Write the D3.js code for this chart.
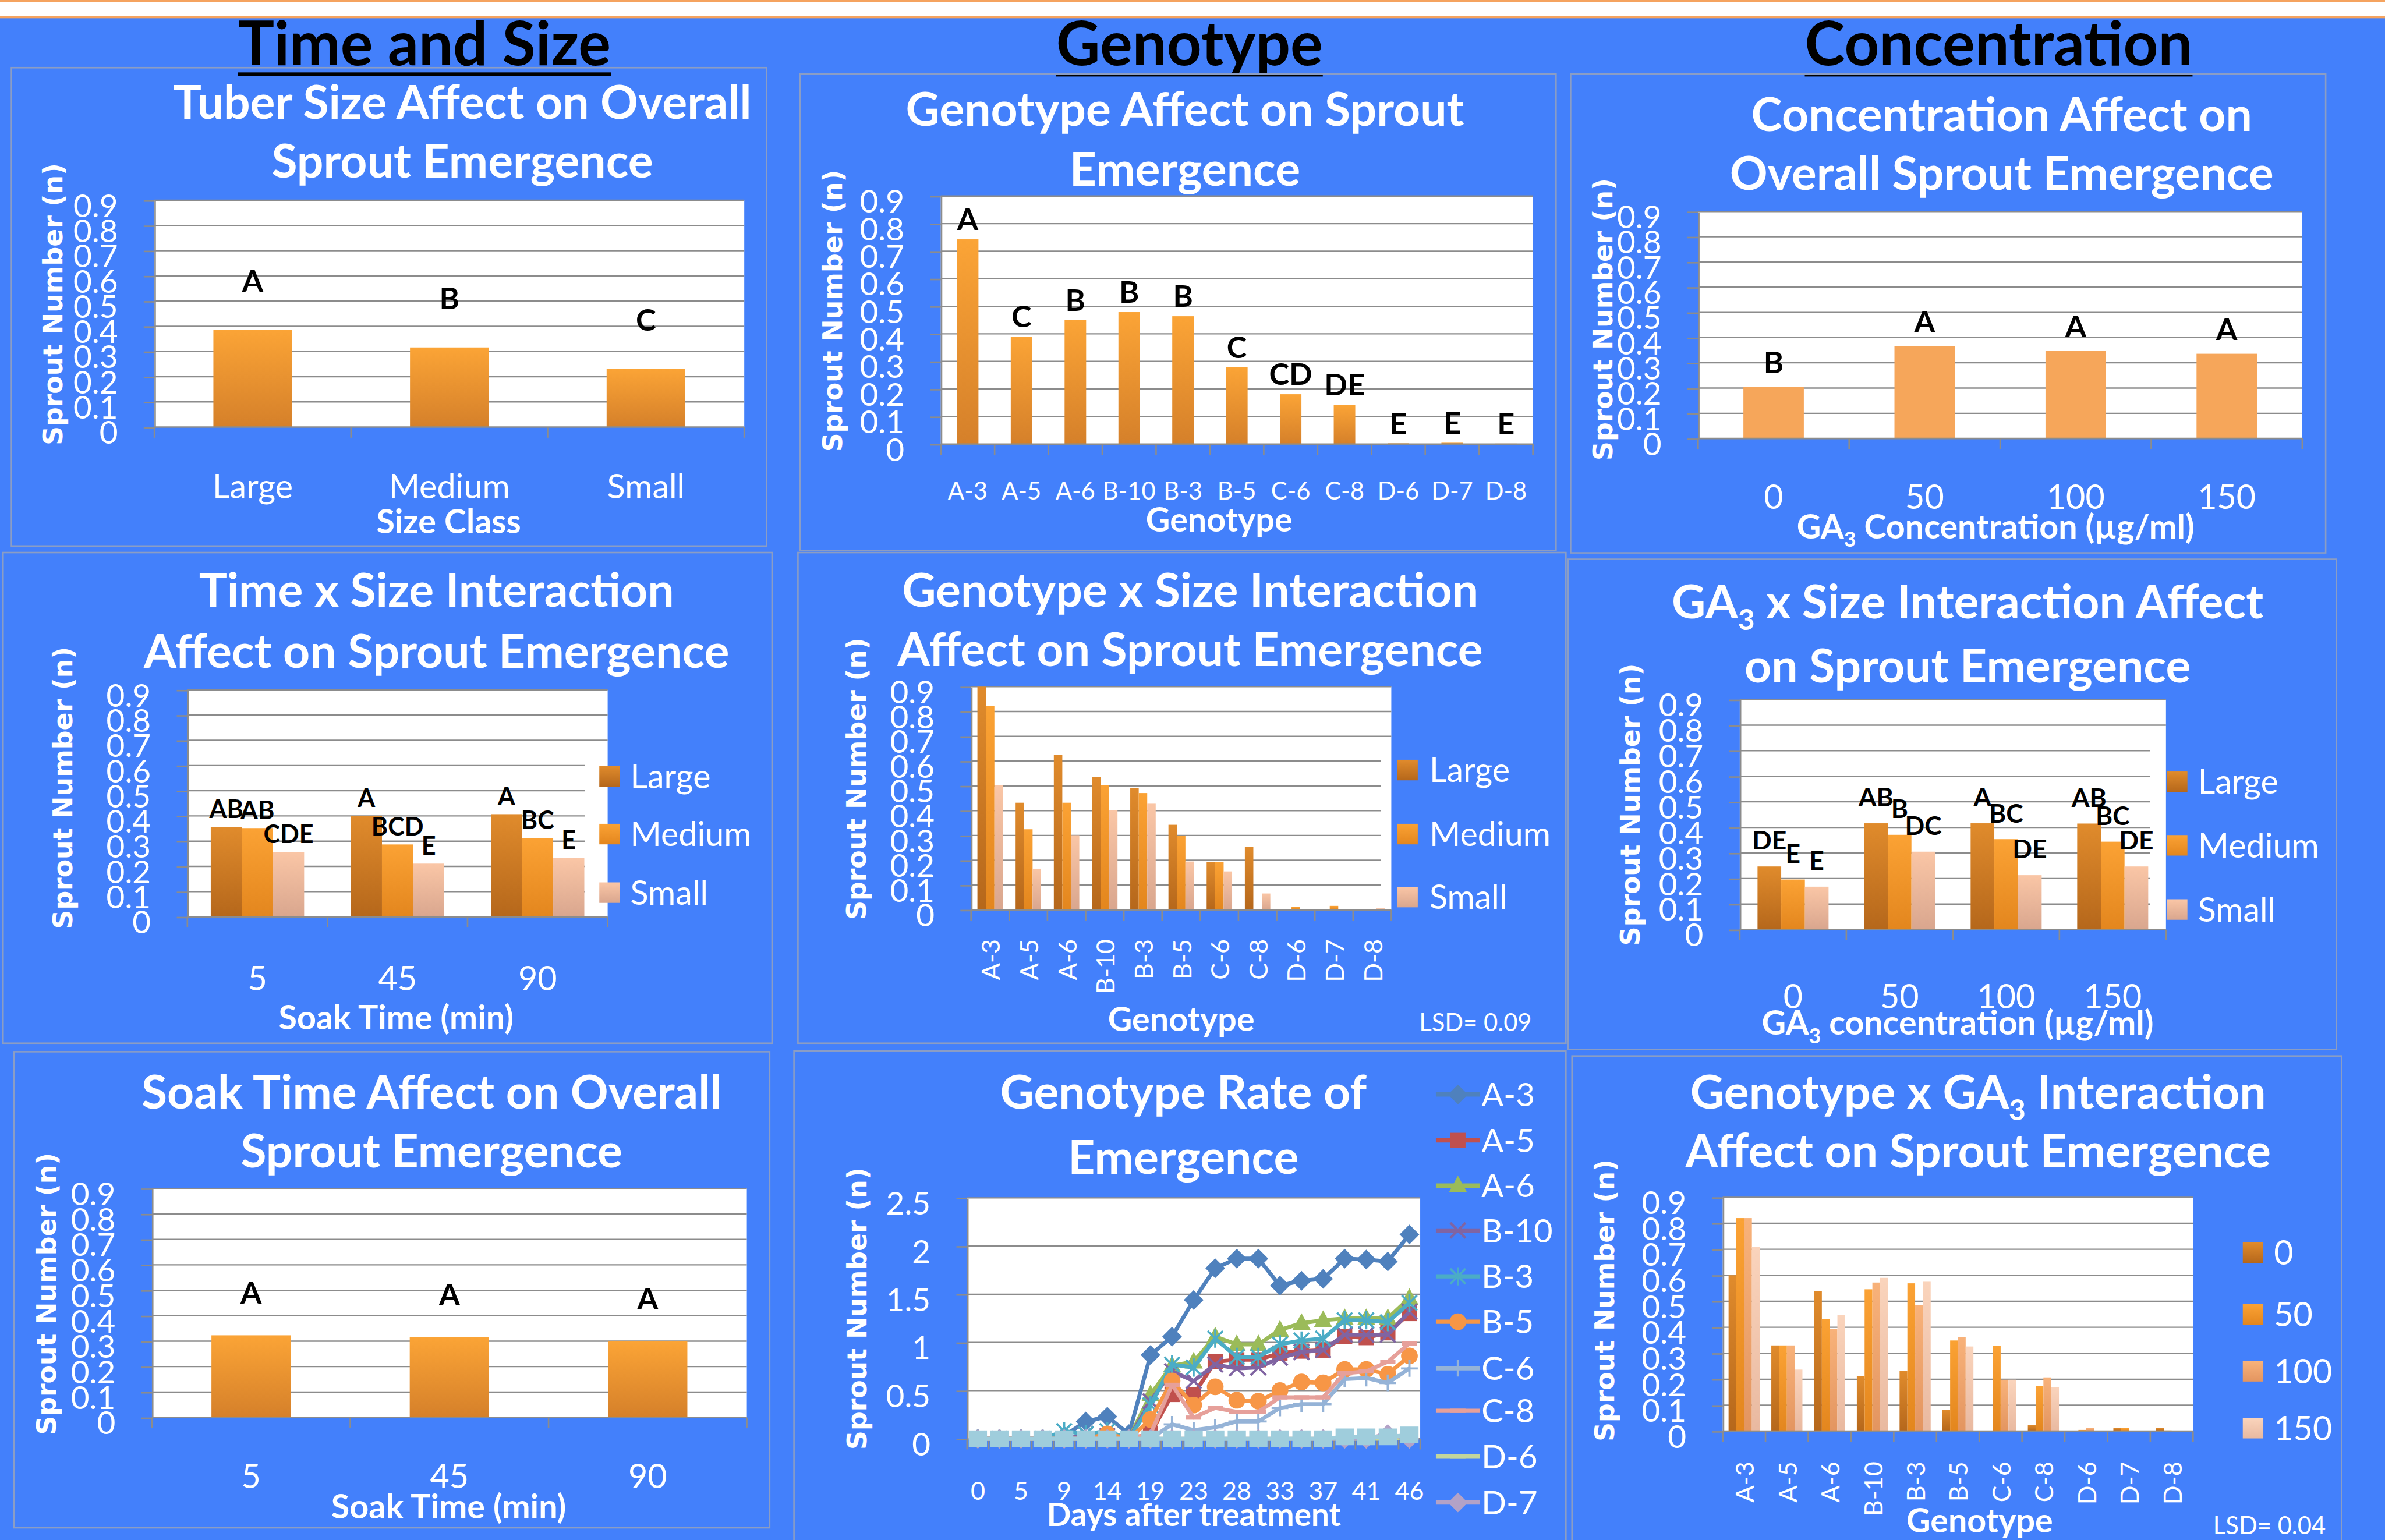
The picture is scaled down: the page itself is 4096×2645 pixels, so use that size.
<!DOCTYPE html>
<html>
<head>
<meta charset="utf-8">
<script src="https://cdn.jsdelivr.net/npm/d3@7"></script>
<style>
  html, body { margin: 0; padding: 0; background: #4380fb; }
  svg { display: block; }
</style>
</head>
<body>
<div id="chart"></div>
<script>
// ------------------------------
// DATA (read off the poster)
// ------------------------------
const yTicks = [0, 0.1, 0.2, 0.3, 0.4, 0.5, 0.6, 0.7, 0.8, 0.9];
const rateTicks = [0, 0.5, 1, 1.5, 2, 2.5];

const sizeClasses = ["Large", "Medium", "Small"];
const sizeMeans = [0.387, 0.316, 0.232];
const sizeLetters = ["A", "B", "C"];

const genotypes = ["A-3", "A-5", "A-6", "B-10", "B-3", "B-5", "C-6", "C-8", "D-6", "D-7", "D-8"];
const genotypeMeans = [0.743, 0.39, 0.451, 0.479, 0.464, 0.28, 0.181, 0.143, 0.003, 0.005, 0.002];
const genotypeLetters = ["A", "C", "B", "B", "B", "C", "CD", "DE", "E", "E", "E"];

const gaLevels = ["0", "50", "100", "150"];
const gaMeans = [0.204, 0.366, 0.347, 0.336];
const gaLetters = ["B", "A", "A", "A"];

const soakTimes = ["5", "45", "90"];
const timeLarge = [0.355, 0.40, 0.407];
const timeMedium = [0.352, 0.287, 0.312];
const timeSmall = [0.257, 0.211, 0.233];
const timeLargeLetters = ["AB", "A", "A"];
const timeMediumLetters = ["AB", "BCD", "BC"];
const timeSmallLetters = ["CDE", "E", "E"];

const genoLarge = [0.90, 0.432, 0.624, 0.535, 0.491, 0.343, 0.193, 0.255, 0, 0, 0];
const genoMedium = [0.823, 0.325, 0.432, 0.502, 0.471, 0.299, 0.193, 0, 0.013, 0.016, 0];
const genoSmall = [0.502, 0.166, 0.301, 0.402, 0.428, 0.195, 0.155, 0.066, 0, 0, 0.006];

const gaLarge = [0.247, 0.416, 0.416, 0.415];
const gaMedium = [0.196, 0.371, 0.354, 0.344];
const gaSmall = [0.168, 0.305, 0.213, 0.247];
const gaLargeLetters = ["DE", "AB", "A", "AB"];
const gaMediumLetters = ["E", "B", "BC", "BC"];
const gaSmallLetters = ["E", "DC", "DE", "DE"];

const soakMeans = [0.323, 0.316, 0.300];
const soakLetters = ["A", "A", "A"];

const days = [0, 2, 5, 7, 9, 12, 14, 16, 19, 21, 23, 26, 28, 30, 33, 35, 37, 39, 41, 44, 46];
const dayLabels = [0, 5, 9, 14, 19, 23, 28, 33, 37, 41, 46];
const rateNames = ["A-3", "A-5", "A-6", "B-10", "B-3", "B-5", "C-6", "C-8", "D-6", "D-7", "D-8"];
const rateA3 = [0, 0, 0, 0, 0.03, 0.18, 0.23, 0.05, 0.87, 1.06, 1.44, 1.77, 1.87, 1.87, 1.59, 1.64, 1.66, 1.87, 1.86, 1.84, 2.12];
const rateA5 = [0, 0, 0, 0, 0, 0, 0, 0, 0.05, 0.46, 0.46, 0.80, 0.82, 0.82, 0.89, 0.91, 0.92, 1.06, 1.05, 1.10, 1.30];
const rateA6 = [0, 0, 0, 0, 0, 0, 0, 0, 0.46, 0.76, 0.80, 1.06, 0.98, 0.98, 1.13, 1.20, 1.23, 1.25, 1.25, 1.25, 1.46];
const rateB10 = [0, 0, 0, 0, 0, 0.05, 0.03, 0, 0.39, 0.70, 0.60, 0.77, 0.73, 0.74, 0.84, 0.90, 0.92, 1.08, 1.08, 1.08, 1.32];
const rateB3 = [0, 0, 0, 0, 0.08, 0.05, 0.08, 0, 0.35, 0.77, 0.74, 1.04, 0.85, 0.85, 0.98, 1.02, 1.04, 1.23, 1.23, 1.21, 1.41];
const rateB5 = [0, 0, 0, 0, 0, 0, 0.05, 0, 0.20, 0.60, 0.35, 0.54, 0.40, 0.39, 0.50, 0.59, 0.58, 0.72, 0.72, 0.67, 0.86];
const rateC6 = [0, 0, 0, 0, 0, 0, 0, 0, 0, 0.15, 0.09, 0.12, 0.18, 0.18, 0.32, 0.36, 0.36, 0.62, 0.63, 0.58, 0.73];
const rateC8 = [0, 0, 0, 0, 0, 0, 0, 0, 0.05, 0.56, 0.22, 0.32, 0.28, 0.28, 0.43, 0.43, 0.43, 0.68, 0.70, 0.80, 0.99];
const rateD6 = [0, 0, 0, 0, 0, 0, 0, 0, 0, 0, 0, 0, 0, 0, 0, 0, 0, 0, 0, 0, 0.02];
const rateD7 = [0, 0, 0, 0, 0, 0, 0, 0, 0, 0, 0, 0, 0, 0, 0, 0, 0, 0, 0, 0.05, 0];
const rateD8 = [0, 0, 0, 0, 0, 0, 0, 0, 0, 0, 0, 0, 0, 0, 0, 0, 0, 0.02, 0.02, 0.02, 0.04];

const ga0 = [0.60, 0.33, 0.538, 0.213, 0.231, 0.082, 0, 0.024, 0, 0.012, 0.012];
const ga50 = [0.82, 0.33, 0.432, 0.546, 0.569, 0.349, 0.328, 0.173, 0.005, 0.012, 0.003];
const ga100 = [0.82, 0.33, 0.393, 0.572, 0.485, 0.362, 0.198, 0.207, 0.012, 0, 0];
const ga150 = [0.71, 0.237, 0.448, 0.59, 0.575, 0.326, 0.198, 0.17, 0, 0, 0];

// ------------------------------
// canvas: drawn in poster units (1568 wide) and scaled up to the window
// ------------------------------
const W = 1568, H = 1012.54;
const FONT = "Lato, 'Open Sans', sans-serif";
const BLUE = "#4380fb";
const GRID = "#8c8c8c";
const TITLE_SIZE = 30.8;

const svg = d3.select("#chart").append("svg")
  .attr("width", 4096)
  .attr("height", 2645)
  .attr("viewBox", `0 0 ${W} ${H}`);

const defs = svg.append("defs");
function grad(id, top, bottom) {
  const g = defs.append("linearGradient").attr("id", id)
    .attr("x1", 0).attr("y1", 0).attr("x2", 0).attr("y2", 1);
  g.append("stop").attr("offset", "0%").attr("stop-color", top);
  g.append("stop").attr("offset", "100%").attr("stop-color", bottom);
  return `url(#${id})`;
}
const fillSingle = grad("gSingle", "#fba436", "#d5802a");
const fillLarge = grad("gLarge", "#e08b2c", "#b5671b");
const fillMedium = grad("gMedium", "#fba234", "#e3861e");
const fillSmall = grad("gSmall", "#fac6a6", "#d9a68e");
const fill100 = grad("g100", "#f8b27a", "#e39560");
const fill150 = grad("g150", "#fad4bc", "#e9b9a0");

svg.append("rect").attr("width", W).attr("height", H).attr("fill", BLUE);
// white strip along the top of the poster
svg.append("rect").attr("width", W).attr("height", 11.5).attr("fill", "#fff");
svg.append("rect").attr("y", 0).attr("width", W).attr("height", 1.2).attr("fill", "#f5a35f");
svg.append("rect").attr("y", 10.6).attr("width", W).attr("height", 1.4).attr("fill", "#f5a35f");

// text with "_3" style subscripts
function rich(sel, str, size) {
  const parts = str.split(/_(\d)/);
  parts.forEach((p, i) => {
    if (!p) return;
    if (i % 2 === 1) {
      sel.append("tspan").attr("dy", size * 0.25).attr("font-size", size * 0.62).text(p);
    } else {
      const t = sel.append("tspan").text(p);
      if (i > 0) t.attr("dy", -size * 0.25);
    }
  });
  return sel;
}

function label(x, y, str, size, opts = {}) {
  const t = svg.append("text")
    .attr("x", x).attr("y", y)
    .attr("text-anchor", opts.anchor || "middle")
    .attr("font-family", opts.family || FONT)
    .attr("font-weight", opts.weight || 400)
    .attr("font-size", size)
    .attr("fill", opts.color || "#fff");
  return rich(t, str, size);
}

// section headings
function heading(cx, baseline, lineY, str) {
  const t = label(cx, baseline, str, 40, { weight: 700, color: "#000" });
  const w = t.node().getComputedTextLength();
  svg.append("rect").attr("x", cx - w / 2).attr("y", lineY).attr("width", w).attr("height", 2.3).attr("fill", "#000");
}
heading(279, 43, 47.6, "Time and Size");
heading(782, 43, 48, "Genotype");
heading(1314, 43, 48, "Concentration");

// frame, title and rotated y title of a panel
function panelFrame(cfg) {
  const [bx0, by0, bx1, by1] = cfg.box;
  svg.append("rect").attr("x", bx0).attr("y", by0)
    .attr("width", bx1 - bx0).attr("height", by1 - by0)
    .attr("fill", "none").attr("stroke", "#8b9dc4").attr("stroke-width", 1);
  cfg.title.forEach((line, i) => label(cfg.titleX, cfg.titleY[i], line, TITLE_SIZE, { weight: 700 }));
  svg.append("text")
    .attr("transform", `translate(${cfg.yTitle[0]},${cfg.yTitle[1]}) rotate(-90)`)
    .attr("text-anchor", "middle")
    .attr("dominant-baseline", "central")
    .attr("font-family", "'DejaVu Sans', Verdana, sans-serif")
    .attr("font-weight", 700)
    .attr("font-size", 17.5)
    .attr("fill", "#fff")
    .text("Sprout Number (n)");
}

function yAxis(g, y, ticks, x0, fmt) {
  const ax = g.append("g").attr("transform", `translate(${x0},0)`)
    .call(d3.axisLeft(y).tickValues(ticks).tickSizeInner(7).tickSizeOuter(0).tickPadding(17).tickFormat(fmt));
  ax.select(".domain").attr("stroke", GRID).attr("stroke-width", 1);
  ax.selectAll(".tick line").attr("stroke", GRID).attr("stroke-width", 1);
  ax.selectAll(".tick text")
    .attr("fill", "#fff").attr("font-family", FONT).attr("font-size", 21).attr("dy", "0.5em");
}

function legendItems(items, x0, size, textX, fontSize) {
  items.forEach(it => {
    svg.append("rect").attr("x", x0).attr("y", it.cy - size / 2)
      .attr("width", size).attr("height", size).attr("fill", it.fill);
    label(textX, it.cy, it.name, fontSize, { anchor: "start" }).attr("dy", "0.36em");
  });
}

// ------------------------------
// bar chart panel
// ------------------------------
function barPanel(cfg) {
  panelFrame(cfg);
  const [px0, py0, px1, py1] = cfg.plot;
  const g = svg.append("g");
  g.append("rect").attr("x", px0).attr("y", py0).attr("width", px1 - px0).attr("height", py1 - py0).attr("fill", "#fff");

  const n = cfg.series.length;
  const gap = 1.5 / (n + 1.5);
  const y = d3.scaleLinear().domain([0, 0.9]).range([py1, py0]);
  const x = d3.scaleBand().domain(cfg.categories).range([px0, px1]).paddingInner(gap).paddingOuter(gap / 2);
  const xs = d3.scaleBand().domain(d3.range(n)).range([0, x.bandwidth()]);

  // gridlines (those behind the legend stop at the legend box)
  g.selectAll(null).data(yTicks.filter(t => t > 0)).join("line")
    .attr("x1", px0)
    .attr("x2", t => (cfg.cut && y(t) > cfg.cut[1]) ? cfg.cut[0] : px1)
    .attr("y1", t => y(t)).attr("y2", t => y(t))
    .attr("stroke", GRID).attr("stroke-width", 0.9);

  cfg.series.forEach((vals, si) => {
    g.selectAll(null).data(vals).join("rect")
      .attr("x", (d, i) => x(cfg.categories[i]) + xs(si))
      .attr("y", d => y(d))
      .attr("width", xs.bandwidth())
      .attr("height", d => y(0) - y(d))
      .attr("fill", cfg.fills[si]);
  });

  // bottom axis with category boundary ticks
  g.append("line").attr("x1", px0).attr("x2", px1).attr("y1", py1).attr("y2", py1).attr("stroke", GRID).attr("stroke-width", 1);
  g.selectAll(null).data(d3.range(cfg.categories.length + 1)).join("line")
    .attr("x1", i => px0 + i * x.step()).attr("x2", i => px0 + i * x.step())
    .attr("y1", py1).attr("y2", py1 + 7)
    .attr("stroke", GRID).attr("stroke-width", 1);
  yAxis(g, y, yTicks, px0, d => d === 0 ? "0" : d.toFixed(1));

  // significance letters
  if (cfg.letters) {
    cfg.letters.forEach((lets, si) => {
      lets.forEach((l, i) => {
        const cx = x(cfg.categories[i]) + xs(si) + xs.bandwidth() / 2;
        label(cx, y(cfg.series[si][i]) - cfg.letterOffset, l, cfg.letterSize, { weight: 700, color: "#000" });
      });
    });
  }

  // category labels
  cfg.categories.forEach(c => {
    const cx = x(c) + x.bandwidth() / 2;
    if (cfg.rotate) {
      svg.append("text")
        .attr("transform", `translate(${cx},${cfg.catY}) rotate(-90)`)
        .attr("text-anchor", "end").attr("dominant-baseline", "central")
        .attr("font-family", FONT).attr("font-size", cfg.catSize).attr("fill", "#fff")
        .text(c);
    } else {
      label(cx, cfg.catY, c, cfg.catSize);
    }
  });
  label(cfg.xTitle[0], cfg.xTitle[1], cfg.xTitleText, 22, { weight: 700 });
  if (cfg.lsd) label(cfg.lsd[0], cfg.lsd[1], cfg.lsd[2], 16, { anchor: "start" });
  if (cfg.legend) legendItems(cfg.legend, cfg.legendX, 13.5, cfg.legendTextX, 22);
}

// ------------------------------
// ROW 1
// ------------------------------
barPanel({
  box: [7.5, 44.5, 504, 359],
  title: ["Tuber Size Affect on Overall", "Sprout Emergence"], titleX: 304, titleY: [78, 116.6],
  yTitle: [35, 200],
  plot: [101.5, 131.7, 489.3, 280.8],
  categories: sizeClasses, series: [sizeMeans], fills: [fillSingle],
  letters: [sizeLetters], letterOffset: 25, letterSize: 20,
  catY: 327.5, catSize: 22,
  xTitle: [295, 350.7], xTitleText: "Size Class"
});

barPanel({
  box: [526, 48.5, 1023, 362],
  title: ["Genotype Affect on Sprout", "Emergence"], titleX: 779, titleY: [82.7, 122],
  yTitle: [547.5, 204.4],
  plot: [618.5, 128.9, 1007.8, 292],
  categories: genotypes, series: [genotypeMeans], fills: [fillSingle],
  letters: [genotypeLetters], letterOffset: 6, letterSize: 20,
  catY: 328.6, catSize: 16,
  xTitle: [801.5, 349.6], xTitleText: "Genotype"
});

barPanel({
  box: [1032.6, 48.5, 1529, 363.5],
  title: ["Concentration Affect on", "Overall Sprout Emergence"], titleX: 1316, titleY: [86.2, 124.7],
  yTitle: [1054, 210],
  plot: [1116.4, 139.1, 1513.6, 288.3],
  categories: gaLevels, series: [gaMeans], fills: ["#f6a65a"],
  letters: [gaLetters], letterOffset: 9, letterSize: 20,
  catY: 334.4, catSize: 22,
  xTitle: [1312, 354], xTitleText: "GA_3 Concentration (µg/ml)"
});

// ------------------------------
// ROW 2
// ------------------------------
barPanel({
  box: [2, 363.3, 507.6, 685.9],
  title: ["Time x Size Interaction", "Affect on Sprout Emergence"], titleX: 287, titleY: [399, 439.2],
  yTitle: [41.6, 518],
  plot: [123.2, 453.6, 399.5, 602.8],
  categories: soakTimes, series: [timeLarge, timeMedium, timeSmall], fills: [fillLarge, fillMedium, fillSmall],
  letters: [timeLargeLetters, timeMediumLetters, timeSmallLetters], letterOffset: 6, letterSize: 16.5,
  cut: [384.5, 490],
  catY: 651, catSize: 22,
  xTitle: [260.4, 677], xTitleText: "Soak Time (min)",
  legend: [
    { name: "Large", cy: 510.5, fill: fillLarge },
    { name: "Medium", cy: 548.4, fill: fillMedium },
    { name: "Small", cy: 586.9, fill: fillSmall }
  ], legendX: 394, legendTextX: 414.4
});

barPanel({
  box: [524.6, 363.3, 1029.5, 685.9],
  title: ["Genotype x Size Interaction", "Affect on Sprout Emergence"], titleX: 782.5, titleY: [399, 438],
  yTitle: [563.4, 512],
  plot: [638.4, 451.5, 914.7, 598.2],
  categories: genotypes, series: [genoLarge, genoMedium, genoSmall], fills: [fillLarge, fillMedium, fillSmall],
  cut: [908, 490],
  rotate: true, catY: 617.5, catSize: 16.5,
  xTitle: [776.6, 678], xTitleText: "Genotype",
  lsd: [933, 678, "LSD= 0.09"],
  legend: [
    { name: "Large", cy: 506.3, fill: fillLarge },
    { name: "Medium", cy: 548.4, fill: fillMedium },
    { name: "Small", cy: 589.8, fill: fillSmall }
  ], legendX: 918.6, legendTextX: 939.8
});

barPanel({
  box: [1031, 367.7, 1536, 690],
  title: ["GA_3 x Size Interaction Affect", "on Sprout Emergence"], titleX: 1293.6, titleY: [406.6, 448.8],
  yTitle: [1072, 529],
  plot: [1143.8, 460, 1424, 611.2],
  categories: gaLevels, series: [gaLarge, gaMedium, gaSmall], fills: [fillLarge, fillMedium, fillSmall],
  letters: [gaLargeLetters, gaMediumLetters, gaSmallLetters], letterOffset: 11, letterSize: 17,
  cut: [1413.7, 485],
  catY: 663, catSize: 22,
  xTitle: [1287, 680.4], xTitleText: "GA_3 concentration (µg/ml)",
  legend: [
    { name: "Large", cy: 514, fill: fillLarge },
    { name: "Medium", cy: 555.8, fill: fillMedium },
    { name: "Small", cy: 598, fill: fillSmall }
  ], legendX: 1424.6, legendTextX: 1445
});

// ------------------------------
// ROW 3
// ------------------------------
barPanel({
  box: [9.3, 691.5, 506, 1004.5],
  title: ["Soak Time Affect on Overall", "Sprout Emergence"], titleX: 283.7, titleY: [728.9, 767.4],
  yTitle: [30.8, 850.7],
  plot: [99.9, 781.4, 491, 932],
  categories: soakTimes, series: [soakMeans], fills: [fillSingle],
  letters: [soakLetters], letterOffset: 21, letterSize: 20,
  catY: 978.6, catSize: 22,
  xTitle: [295, 998.3], xTitleText: "Soak Time (min)"
});

barPanel({
  box: [1033.5, 694.3, 1539.5, 1020],
  title: ["Genotype x GA_3 Interaction", "Affect on Sprout Emergence"], titleX: 1300.5, titleY: [729, 767.5],
  yTitle: [1055.4, 855],
  plot: [1132.6, 787.2, 1441.8, 941],
  categories: genotypes, series: [ga0, ga50, ga100, ga150], fills: [fillLarge, fillMedium, fill100, fill150],
  rotate: true, catY: 961, catSize: 16.5,
  xTitle: [1301.5, 1007.6], xTitleText: "Genotype",
  lsd: [1455, 1008.6, "LSD= 0.04"],
  legend: [
    { name: "0", cy: 823.6, fill: fillLarge },
    { name: "50", cy: 864.2, fill: fillMedium },
    { name: "100", cy: 901.6, fill: fill100 },
    { name: "150", cy: 939, fill: fill150 }
  ], legendX: 1474.5, legendTextX: 1495
});

// ------------------------------
// line chart: rate of emergence
// ------------------------------
const rateSeries = [rateA3, rateA5, rateA6, rateB10, rateB3, rateB5, rateC6, rateC8, rateD6, rateD7, rateD8];
const rateColors = ["#4f81bd", "#c0504d", "#9bbb59", "#8064a2", "#4bacc6", "#f79646", "#95b3d7", "#e6a09a", "#c3d69b", "#b3a2c7", "#9fcddc"];
const rateMarkers = ["diamond", "square", "triangle", "x", "star", "circle", "plus", "dash", "dash", "diamond", "bigsquare"];

function marker(g, type, color, cx, cy) {
  const m = g.append("g").attr("transform", `translate(${cx},${cy})`);
  const strokeMark = (d, w) => m.append("path").attr("d", d).attr("stroke", color).attr("stroke-width", w).attr("fill", "none");
  switch (type) {
    case "diamond": m.append("path").attr("d", "M0,-6.5L6.5,0L0,6.5L-6.5,0Z").attr("fill", color); break;
    case "square": m.append("rect").attr("x", -5).attr("y", -5).attr("width", 10).attr("height", 10).attr("fill", color); break;
    case "bigsquare": m.append("rect").attr("x", -6).attr("y", -5.5).attr("width", 12).attr("height", 11).attr("fill", color); break;
    case "triangle": m.append("path").attr("d", "M0,-6.5L6,4.5L-6,4.5Z").attr("fill", color); break;
    case "circle": m.append("circle").attr("r", 5.5).attr("fill", color); break;
    case "x": strokeMark("M-5,-5L5,5M-5,5L5,-5", 1.5); break;
    case "star": strokeMark("M-5,-5L5,5M-5,5L5,-5M0,-6L0,6", 1.4); break;
    case "plus": strokeMark("M-5.5,0L5.5,0M0,-5.5L0,5.5", 1.5); break;
    case "dash": strokeMark("M-5,0L5,0", 2.8); break;
  }
}

function ratePanel(cfg) {
  panelFrame(cfg);
  const [px0, py0, px1, py1] = cfg.plot;
  const g = svg.append("g");
  g.append("rect").attr("x", px0).attr("y", py0).attr("width", px1 - px0).attr("height", py1 - py0).attr("fill", "#fff");

  const y = d3.scaleLinear().domain([0, 2.5]).range([py1, py0]);
  const x = d3.scalePoint().domain(days).range([px0, px1]).padding(0.5);

  g.selectAll(null).data(rateTicks.filter(t => t > 0)).join("line")
    .attr("x1", px0).attr("x2", px1)
    .attr("y1", t => y(t)).attr("y2", t => y(t))
    .attr("stroke", GRID).attr("stroke-width", 0.9);
  g.append("line").attr("x1", px0).attr("x2", px1).attr("y1", py1).attr("y2", py1).attr("stroke", GRID).attr("stroke-width", 1);
  g.selectAll(null).data(d3.range(days.length + 1)).join("line")
    .attr("x1", i => px0 + i * x.step()).attr("x2", i => px0 + i * x.step())
    .attr("y1", py1).attr("y2", py1 + 7)
    .attr("stroke", GRID).attr("stroke-width", 1);
  yAxis(g, y, rateTicks, px0, d => String(d));

  const line = d3.line().x((d, i) => x(days[i])).y(d => y(d));
  rateSeries.forEach((vals, si) => {
    g.append("path").datum(vals).attr("d", line)
      .attr("fill", "none").attr("stroke", rateColors[si]).attr("stroke-width", 2.6).attr("stroke-linejoin", "round");
    vals.forEach((v, i) => marker(g, rateMarkers[si], rateColors[si], x(days[i]), y(v)));
  });

  dayLabels.forEach(d => label(x(d), cfg.catY, String(d), 16.5));
  label(cfg.xTitle[0], cfg.xTitle[1], "Days after treatment", 21, { weight: 700 });

  // the legend runs off the bottom of the poster after D-7
  rateNames.slice(0, cfg.legendY.length).forEach((name, si) => {
    const cy = cfg.legendY[si];
    svg.append("line").attr("x1", cfg.legendX[0]).attr("x2", cfg.legendX[1]).attr("y1", cy).attr("y2", cy)
      .attr("stroke", rateColors[si]).attr("stroke-width", 2.8);
    marker(svg, rateMarkers[si], rateColors[si], (cfg.legendX[0] + cfg.legendX[1]) / 2, cy);
    label(cfg.legendX[1] + 1, cy, name, 21.5, { anchor: "start" }).attr("dy", "0.36em");
  });
}

ratePanel({
  box: [522, 690.9, 1029.5, 1020],
  title: ["Genotype Rate of", "Emergence"], titleX: 778, titleY: [728.9, 771.6],
  yTitle: [563.5, 860.4],
  plot: [635.8, 787.6, 933.7, 946],
  catY: 986,
  xTitle: [784.9, 1003.5],
  legendX: [944, 973],
  legendY: [719.6, 749.8, 779.5, 809, 839.2, 869, 899.6, 927.6, 957.7, 987.9]
});
</script>
</body>
</html>
